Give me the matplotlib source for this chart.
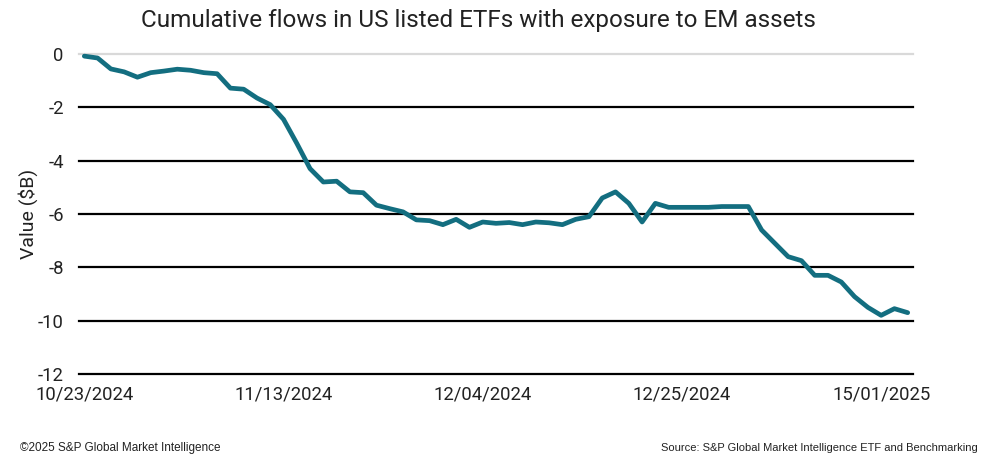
import matplotlib
matplotlib.use('Agg')
from matplotlib import pyplot as plt
import numpy as np
import pandas as pd

# Weekday series, 10/23/2024 .. 1/17/2025
dates = pd.bdate_range('2024-10-23', periods=63)

# Cumulative flows ($B)
values = [
    -0.08, -0.15, -0.56, -0.67, -0.87, -0.70, -0.64, -0.57, -0.61, -0.70,
    -0.74, -1.28, -1.32, -1.65, -1.90, -2.45, -3.35, -4.30, -4.80, -4.77,
    -5.17, -5.20, -5.67, -5.80, -5.92, -6.22, -6.25, -6.40, -6.20, -6.50,
    -6.30, -6.35, -6.32, -6.40, -6.30, -6.33, -6.40, -6.20, -6.10, -5.40,
    -5.17, -5.60, -6.30, -5.60, -5.75, -5.75, -5.75, -5.75, -5.72, -5.72,
    -5.72, -6.60, -7.10, -7.60, -7.75, -8.30, -8.30, -8.55, -9.10, -9.50,
    -9.80, -9.55, -9.70,
]

tick_idx = [0, 15, 30, 45, 60]
tick_labels = ['10/23/2024', '11/13/2024', '12/04/2024', '12/25/2024', '15/01/2025']
y_ticks = [0, -2, -4, -6, -8, -10, -12]

plt.rcParams['font.family'] = ['Roboto', 'DejaVu Sans']

fig = plt.figure(figsize=(9.85, 4.54), dpi=100, facecolor='white')
ax = fig.add_axes([79 / 985, 1 - 374 / 454, (913 - 79) / 985, 320 / 454])

x = np.arange(len(dates))

# Gridlines: top one light grey, the rest black
for yv in y_ticks:
    ax.axhline(yv, color='#d9d9d9' if yv == 0 else 'black', lw=1.6, zorder=1,
               clip_on=False)

ax.plot(x, values, color='#136e80', lw=3.4, solid_joinstyle='round',
        solid_capstyle='round', zorder=3, clip_on=False)

ax.set_xlim(-0.4, 62.4)
ax.set_ylim(-12, 0)
ax.set_yticks(y_ticks)
ax.set_yticklabels([str(v) for v in y_ticks])
ax.set_xticks(tick_idx)
ax.set_xticklabels(tick_labels)
ax.tick_params(axis='both', length=0, labelsize=13.3, colors='#222222')
ax.tick_params(axis='y', pad=11)
ax.tick_params(axis='x', pad=8)

for s in ax.spines.values():
    s.set_visible(False)

ax.set_ylabel('Value ($B)', fontsize=14, color='#222222', labelpad=0)

fig.text(0.486, 0.955, 'Cumulative flows in US listed ETFs with exposure to EM assets',
         ha='center', va='center', fontsize=17.5, color='#222222')

foot_font = ['Liberation Sans Narrow', 'Liberation Sans']
fig.text(20 / 985, 1 - 448 / 454, '\u00a92025 S&P Global Market Intelligence',
         ha='left', va='center', fontsize=8.5, family=foot_font, color='#222222')
fig.text(978 / 985, 1 - 448 / 454, 'Source: S&P Global Market Intelligence ETF and Benchmarking',
         ha='right', va='center', fontsize=8.0, family=foot_font, color='#222222')

fig.savefig('out.png', dpi=100)
